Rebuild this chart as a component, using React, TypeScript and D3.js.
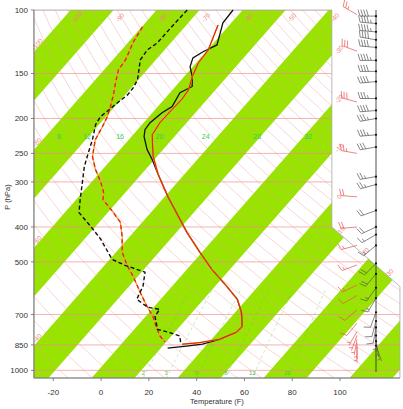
import React from 'react';
import * as d3 from 'd3';

// observed temperature (hPa, °F)
const obsPres = [100, 108.6, 125, 130.6, 135.8, 143.8, 153, 163, 169.7, 185.4, 192.7, 205.5, 214.8, 224.6, 243.9, 260, 286, 331, 350.5, 414, 470, 524, 584, 635, 689, 755, 784, 820, 846, 857, 868];
const obsTemp = [-80, -79.5, -73.9, -77.2, -79.2, -77.1, -72.6, -69, -71.8, -70, -72, -73.3, -72.9, -70.7, -64.7, -58.9, -50.9, -38.3, -33, -17.6, -4.9, 6.3, 18.8, 28.1, 34.5, 40.1, 39.8, 35.3, 30, 24.1, 16.9];

// observed dewpoint
const obsDewPres = [100, 110, 123.4, 129, 137.5, 156, 164, 172, 181, 198, 208, 229, 249, 272, 301, 336, 365, 398, 432, 492, 511, 534, 584, 635, 668, 677, 707, 770, 785, 803, 840];
const obsDew = [-99.2, -99.5, -99.6, -101.2, -100.5, -94.4, -93.2, -93, -94.3, -96.3, -95.4, -91.2, -88.1, -84.7, -79.7, -74.3, -70, -60.2, -51.3, -39, -31.4, -20.5, -16.2, -14, -6.5, -0.7, -0.2, 5.8, 11.9, 17.5, 20.5];

// model temperature
const modelPres = [110, 129, 140, 153, 166.5, 177, 189, 205.5, 221.8, 233, 255, 286, 331, 350.5, 414, 470, 524, 584, 635, 689, 755, 784, 820, 838, 846];
const modelTemp = [-80.8, -75.7, -75.1, -72.6, -69.3, -68.6, -69, -69.2, -68, -65.1, -59.6, -50.9, -38.3, -33, -17.6, -4.9, 6.3, 18.8, 28.1, 34.5, 40.1, 39.8, 35.3, 28, 21.5];

// model dewpoint
const modelDewPres = [111.4, 122.6, 137.5, 146.5, 159, 172, 185.5, 198, 210.6, 229, 255, 277, 299, 320, 336, 362, 388, 425, 470, 513, 548, 606, 663, 707, 760, 803, 834];
const modelDew = [-111.7, -110, -106.7, -106, -102.5, -98.9, -95.8, -93.4, -91.8, -90, -85, -79, -72.5, -67.3, -64.7, -56.5, -49.2, -43.2, -37.4, -30.2, -24, -15.3, -7.3, -1.1, 4.6, 9.2, 13.5];

// winds (hPa, deg, kt)
const obsWindPres = [104, 109, 115, 121, 127, 138, 148, 158, 176, 190, 200, 222, 240, 290, 305, 360, 400, 420, 450, 505, 540, 590, 630, 690, 730, 760, 800, 830, 855];
const obsWindDir = [270, 275, 275, 280, 275, 270, 270, 265, 270, 265, 260, 265, 260, 260, 255, 250, 245, 240, 230, 225, 220, 215, 210, 200, 195, 190, 180, 170, 160];
const obsWindSpd = [40, 45, 45, 40, 40, 45, 40, 40, 35, 40, 35, 35, 30, 25, 25, 20, 20, 15, 15, 20, 20, 15, 15, 10, 10, 10, 5, 5, 5];

const modelWindPres = [103, 130, 180, 250, 330, 400, 450, 510, 580, 620, 680, 740, 780, 800, 820, 840, 860];
const modelWindDir = [300, 290, 285, 280, 275, 265, 255, 250, 245, 240, 230, 220, 210, 200, 190, 180, 180];
const modelWindSpd = [25, 30, 30, 25, 20, 20, 15, 15, 15, 10, 10, 10, 5, 5, 5, 5, 5];

const pressureTicks = [100, 150, 200, 250, 300, 400, 500, 700, 850, 1000];
const tempTicks = [-20, 0, 20, 40, 60, 80, 100];
const mixingRatios = [2, 3, 5, 8, 12, 20];
const moistLabels = [8, 12, 16, 20, 24, 28, 32];

const W = 403;
const H = 409;
const GREEN = '#98e400';
const FONT = 'Liberation Sans, Arial, sans-serif';

const x = d3.scaleLinear().domain([-20, 100]).range([53.3, 340]);
const y = d3.scaleLog().domain([100, 1050]).range([10, 378]);
const SKEW = 0.878;
const sx = (tf: number, p: number) => x(tf) + SKEW * (y(1050) - y(p));
const cToF = (c: number) => c * 1.8 + 32;

// frame outline, in °F at the bottom reference and hPa
const fLeft = -28.1, fCut = 96.6, fRight = 125.1;
const frame: [number, number][] = [
  [x(fLeft), y(100)], [x(fCut), y(100)], [x(fCut), y(400)],
  [x(fRight), y(585)], [x(fRight), y(1050)], [x(fLeft), y(1050)],
];

function dTdp(T: number, p: number) {
  const es = 6.112 * Math.exp(17.67 * (T - 273.15) / (T - 29.65));
  const rs = 0.622 * es / (p - es);
  const Rd = 287.04, cp = 1005.7, Lv = 2.501e6;
  return (Rd * T + Lv * rs) / (p * (cp + Lv * Lv * rs * 0.622 / (Rd * T * T)));
}

function moistT(thetaW: number, pTarget: number) {
  let T = thetaW + 273.15;
  let p = 1000;
  while (p > pTarget) {
    const step = Math.max(-2, pTarget - p);
    const k1 = dTdp(T, p);
    const k2 = dTdp(T + k1 * step, p + step);
    T += 0.5 * (k1 + k2) * step;
    p += step;
  }
  return T - 273.15;
}

function mixDew(w: number, p: number) {
  const e = w * p / (622 + w);
  const l = Math.log(e / 6.112);
  return 243.5 * l / (17.67 - l);
}

function barb(x0: number, y0: number, dir: number, spd: number, L = 16) {
  const a = dir * Math.PI / 180;
  const ux = Math.sin(a), uy = -Math.cos(a);
  const px = Math.sin(a + Math.PI / 2), py = -Math.cos(a + Math.PI / 2);
  const f = (v: number) => v.toFixed(1);
  let d = `M${f(x0)},${f(y0)}L${f(x0 + ux * L)},${f(y0 + uy * L)}`;
  let s = Math.round(spd / 5) * 5;
  let pos = L;
  const fl = 6.5;
  while (s >= 50) {
    const bx = x0 + ux * pos, by = y0 + uy * pos;
    d += `M${f(bx)},${f(by)}L${f(bx + px * fl)},${f(by + py * fl)}L${f(x0 + ux * (pos - 4))},${f(y0 + uy * (pos - 4))}Z`;
    pos -= 5; s -= 50;
  }
  while (s >= 10) {
    const bx = x0 + ux * pos, by = y0 + uy * pos;
    d += `M${f(bx)},${f(by)}L${f(bx + px * fl + ux * 2)},${f(by + py * fl + uy * 2)}`;
    pos -= 2.8; s -= 10;
  }
  if (s >= 5) {
    if (pos === L) pos -= 2.8;
    const bx = x0 + ux * pos, by = y0 + uy * pos;
    d += `M${f(bx)},${f(by)}L${f(bx + px * fl / 2 + ux)},${f(by + py * fl / 2 + uy)}`;
  }
  return d;
}

function intersect(a: [number, number], b: [number, number], c: [number, number], e: [number, number]) {
  const d1x = b[0] - a[0], d1y = b[1] - a[1];
  const d2x = e[0] - c[0], d2y = e[1] - c[1];
  const den = d1x * d2y - d1y * d2x;
  if (Math.abs(den) < 1e-9) return null;
  const t = ((c[0] - a[0]) * d2y - (c[1] - a[1]) * d2x) / den;
  const u = ((c[0] - a[0]) * d1y - (c[1] - a[1]) * d1x) / den;
  if (u < 0 || u > 1) return null;
  return { px: a[0] + t * d1x, py: a[1] + t * d1y };
}

const line = d3.line<[number, number]>();
const profile = (pres: number[], vals: number[]) =>
  line(pres.map((p, i) => [sx(vals[i], p), y(p)] as [number, number])) || '';

export default function App() {
  const bands: string[] = [];
  for (let c = -140; c <= 60; c += 20) {
    const a = cToF(c), b = cToF(c + 10);
    bands.push(line([
      [sx(a, 1050), y(1050)], [sx(b, 1050), y(1050)],
      [sx(b, 100), y(100)], [sx(a, 100), y(100)],
    ]) + 'Z');
  }

  const adiabats: string[] = [];
  const levels = d3.range(100, 1051, 10);
  for (let th = -40; th <= 700; th += 10) {
    const thK = (th - 32) / 1.8 + 273.15;
    adiabats.push(line(levels.map((p) => {
      const tK = thK * Math.pow(p / 1000, 0.286);
      return [sx(cToF(tK - 273.15), p), y(p)] as [number, number];
    })) || '');
  }

  const mixLines = mixingRatios.map((w) => {
    const ps = d3.range(600, 1051, 10);
    return line(ps.map((p) => [sx(cToF(mixDew(w, p)), p), y(p)] as [number, number])) || '';
  });

  // isotherm labels where 10°C isotherms meet the frame
  const isoLabels: { tx: number; ty: number; t: string }[] = [];
  const edges = frame.map((pt, i) => [pt, frame[(i + 1) % frame.length]] as [[number, number], [number, number]]);
  for (let c = -120; c <= 50; c += 10) {
    const tf = cToF(c);
    const A: [number, number] = [sx(tf, 1050), y(1050)];
    const B: [number, number] = [sx(tf, 100), y(100)];
    edges.forEach(([p0, p1], ei) => {
      const hit = intersect(A, B, p0, p1);
      if (!hit) return;
      if (ei === 0) isoLabels.push({ tx: hit.px + 8, ty: hit.py + 9, t: String(c) });
      else if (ei === 1) isoLabels.push({ tx: hit.px + 9, ty: hit.py - 4, t: String(c) });
      else if (ei === 2) isoLabels.push({ tx: hit.px - 1, ty: hit.py - 6, t: String(c) });
      else if (ei === 5 && c % 20 === 0 && hit.py > y(100) + 20) isoLabels.push({ tx: hit.px + 5, ty: hit.py - 6, t: String(c) });
    });
  }
  const isoAngle = Math.atan2(-1, SKEW) * 180 / Math.PI;

  const pLab = 224;

  return (
    <svg width={W} height={H} style={{ position: 'absolute', left: 0, top: 0, background: '#fff' }} fontFamily={FONT}>
      <defs>
        <clipPath id="frame">
          <path d={line(frame) + 'Z'} />
        </clipPath>
      </defs>
      <g clipPath="url(#frame)">
        {bands.map((d, i) => <path key={i} d={d} fill={GREEN} />)}
        {adiabats.map((d, i) => <path key={i} d={d} fill="none" stroke="#f2a0a0" strokeWidth={0.6} strokeOpacity={0.75} />)}
        {pressureTicks.map((p) => (
          <line key={p} x1={x(fLeft)} x2={x(fRight)} y1={y(p)} y2={y(p)} stroke="#f08888" strokeWidth={0.8} strokeOpacity={0.8} />
        ))}
        {mixLines.map((d, i) => <path key={i} d={d} fill="none" stroke="#55cc55" strokeWidth={0.6} strokeDasharray="3,3" strokeOpacity={0.6} />)}
      </g>
      <path d={line(frame) + 'Z'} fill="none" stroke="#a8a8a8" strokeWidth={0.8} />

      {isoLabels.map((l, i) => (
        <text key={i} x={l.tx} y={l.ty} fontSize={6.5} fill="#f08080" textAnchor="middle"
          transform={`rotate(${isoAngle},${l.tx},${l.ty})`}>{l.t}</text>
      ))}
      {moistLabels.map((w) => (
        <text key={w} x={sx(cToF(moistT(w, pLab)), pLab) + 4} y={y(pLab) + 3} fontSize={7} fill="#2fd050" textAnchor="middle">{w}</text>
      ))}
      {mixingRatios.map((w) => (
        <text key={w} x={sx(cToF(mixDew(w, 1050)), 1050)} y={y(1050) - 3} fontSize={6} fill="#44cc44" textAnchor="middle">{w}</text>
      ))}

      {/* profiles */}
      <path d={profile(modelDewPres, modelDew)} fill="none" stroke="#f0a020" strokeWidth={1.3} />
      <path d={profile(modelDewPres, modelDew)} fill="none" stroke="#e02020" strokeWidth={1.3} strokeDasharray="4,3" />
      <path d={profile(obsDewPres, obsDew)} fill="none" stroke="#111" strokeWidth={1.4} strokeDasharray="4,2.5" />
      <path d={profile(obsPres, obsTemp)} fill="none" stroke="#111" strokeWidth={1.3} />
      <path d={profile(modelPres, modelTemp)} fill="none" stroke="#f09020" strokeWidth={1.6} />
      <path d={profile(modelPres, modelTemp)} fill="none" stroke="#d81010" strokeWidth={0.9} />

      {/* winds */}
      <line x1={376} x2={376} y1={y(100)} y2={y(1050) - 6} stroke="#222" strokeWidth={0.8} />
      {obsWindPres.map((p, i) => (
        <g key={i}>
          <path d={barb(376, y(p), obsWindDir[i], obsWindSpd[i])} stroke="#555" strokeWidth={0.7} fill="#555" />
          <circle cx={376} cy={y(p)} r={1.1} fill="#111" />
        </g>
      ))}
      {modelWindPres.map((p, i) => (
        <path key={i} d={barb(357, y(p), modelWindDir[i], modelWindSpd[i])} stroke="#e85050" strokeWidth={0.7} fill="#e85050" />
      ))}

      {/* axes */}
      <line x1={x(fLeft)} x2={x(fLeft)} y1={y(100)} y2={y(1050)} stroke="#666" strokeWidth={0.8} />
      <line x1={x(fLeft)} x2={x(fRight)} y1={y(1050)} y2={y(1050)} stroke="#666" strokeWidth={0.8} />
      {pressureTicks.map((p) => (
        <g key={p}>
          <line x1={x(fLeft) - 3} x2={x(fLeft)} y1={y(p)} y2={y(p)} stroke="#666" strokeWidth={0.8} />
          <text x={28} y={y(p) + 3} fontSize={8} fill="#333" textAnchor="end">{p}</text>
        </g>
      ))}
      {tempTicks.map((t) => (
        <g key={t}>
          <line x1={x(t)} x2={x(t)} y1={y(1050)} y2={y(1050) + 3} stroke="#666" strokeWidth={0.8} />
          <text x={x(t)} y={y(1050) + 17} fontSize={8} fill="#333" textAnchor="middle">{t}</text>
        </g>
      ))}
      <text x={(x(fLeft) + x(fRight)) / 2} y={404} fontSize={7.5} fill="#333" textAnchor="middle">Temperature (F)</text>
      <text x={0} y={0} fontSize={7.5} fill="#333" textAnchor="middle" transform="translate(10,197) rotate(-90)">P (hPa)</text>
    </svg>
  );
}
